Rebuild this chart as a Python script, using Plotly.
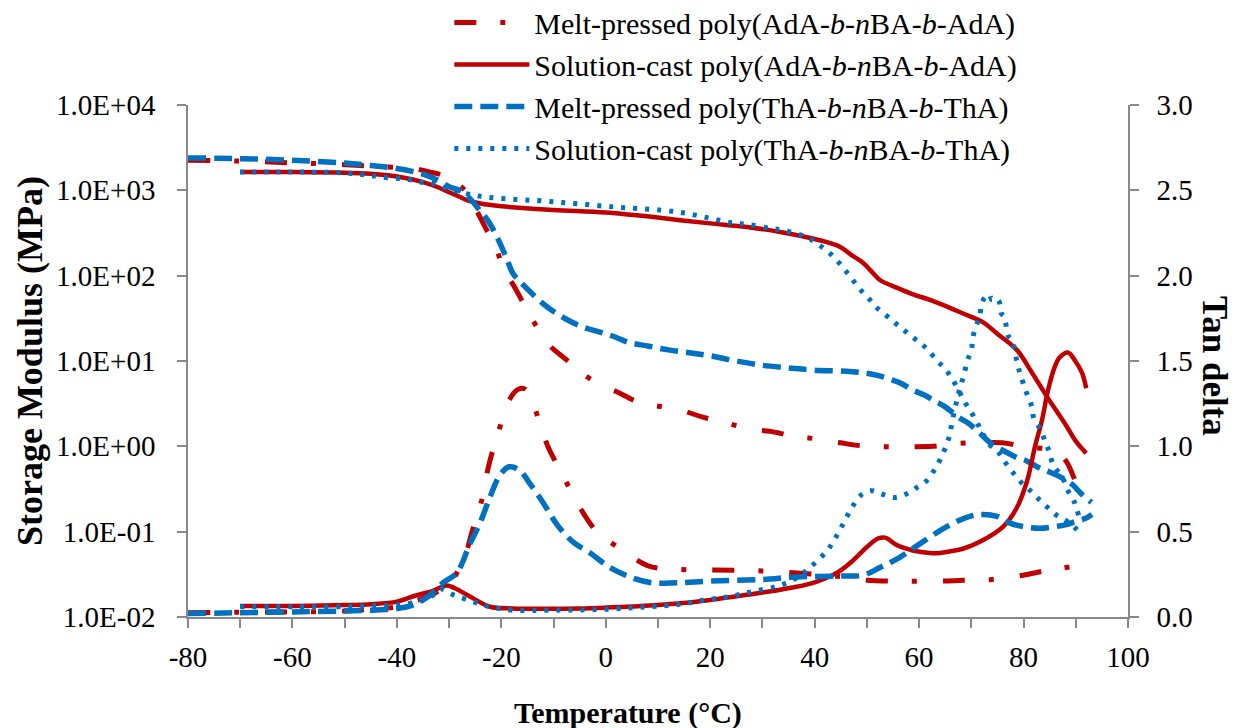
import plotly.graph_objects as go

# ---------------- data ----------------
# Storage modulus (MPa), left log axis
T_mp_ada_E = [-80,-70,-60,-50,-42,-37,-34,-31.2,-29,-27,-25,-23.1,-21,-19.7,-17.4,-15.1,-13.2,-10.9,-7.4,-4.9,
              -1.3,2.7,6.2,10.8,14.8,18.6,23.2,27.6,31.4,35.9,40.4,44.9,49.3,54,58,62.5,67.3,71.7,75.9,80.7,
              84.5,86.5,88.3,89.5,90.4,91]
E_mp_ada = [2250,2200,2100,2000,1880,1820,1650,1500,1250,1000,620,370,210,126,72,40,25,15.5,10.2,7.4,
            5.4,4.2,3.3,2.9,2.6,2.2,1.87,1.6,1.5,1.32,1.22,1.1,1.01,0.99,0.99,1.0,1.08,1.1,1.1,0.98,
            0.93,0.85,0.65,0.45,0.33,0.25]

T_sc_ada_E = [-70,-60,-50,-45,-40,-35,-32,-30,-28,-26.6,-24,-20,-10,0,10,14.2,20,27,33.4,38.5,
              42,44.9,47,49.3,51,52.5,55.8,59,62.1,65.9,68.4,72.2,74.9,78.7,81.5,84.5,86.5,88.3,90,92]
E_sc_ada = [1640,1640,1610,1560,1450,1250,1080,950,840,770,700,650,590,550,480,447,410,372,325,282,
            250,217,175,141,110,89,72,60,52,42,36,28.6,21,13.5,7.5,3.8,2.5,1.7,1.15,0.83]

T_mp_tha_E = [-80,-70,-60,-50,-45,-40,-35,-32,-30,-28,-26,-24.5,-22.6,-20.8,-19,-17.8,-15.8,-14.5,-12.2,-10,
              -7.2,-4.4,-1.3,1.4,4.3,8,12,16,20,25,30,35,40,46,50,52,54.5,56.5,59,61,
              63,65,67.5,69.5,71.5,74,76,78.7,80.7,83,85,87.6,89.5,91,93]
E_mp_tha = [2400,2350,2250,2090,1950,1800,1550,1300,1100,1000,800,620,445,282,160,107,78,65,48,38,
            30,25,22,19.5,16.6,15,13.5,12.5,11.5,10,8.9,8.3,7.8,7.6,7.2,6.8,6.1,5.5,4.5,4.0,
            3.4,2.9,2.2,1.85,1.45,1.05,0.9,0.74,0.67,0.56,0.5,0.42,0.35,0.28,0.22]

T_sc_tha_E = [-70,-60,-50,-45.7,-43,-38,-35.6,-33.3,-31.2,-29.3,-25.4,-22.7,-18.3,-12,1.4,13.6,20,24.4,27,31.4,
              34,38.5,40.6,42.6,44.3,45.8,47.3,49,50.6,52.1,54,56,57.9,59.8,61.5,63.2,64.8,66.1,67.5,68.6,
              70,71.1,72.2,73.6,74.9,76.1,78,79.7,81.6,83.2,84.7,86.4,88.5,90.8]
E_sc_tha = [1640,1640,1600,1510,1430,1350,1250,1220,1100,1000,880,830,790,750,640,560,470,413,400,360,
            340,282,235,190,150,117,89,66,52,41,33,26,21,17,13.9,10.5,8.3,6.5,4.6,3.4,
            2.5,1.9,1.4,1.03,0.9,0.7,0.49,0.37,0.29,0.23,0.19,0.155,0.13,0.098]

# Tan delta, right axis
T_mp_ada_td = [-80,-70,-60,-50,-45,-40,-37,-34,-31,-29.5,-28.5,-27,-25.7,-23.7,-22.4,-20.6,-18.5,-17,-15.8,-14.5,
               -13,-11.1,-8.2,-5.5,-1.7,3.3,8.1,13.6,20,30,40,45.4,50,57,64,68.4,74,79.9,84,87,90.2]
td_mp_ada = [0.025,0.028,0.03,0.035,0.045,0.06,0.09,0.12,0.17,0.2,0.26,0.35,0.49,0.69,0.89,1.08,1.27,1.33,1.34,1.3,
             1.17,1.0,0.83,0.67,0.5,0.39,0.3,0.28,0.275,0.27,0.25,0.235,0.215,0.21,0.21,0.215,0.22,0.245,0.27,0.285,0.3]

T_sc_ada_td = [-70,-60,-50,-45,-40,-37,-33,-30.5,-29,-26,-22.2,-17.8,-12,-5,0,5,10,14.2,20,27,
               33.4,39.7,44.3,47.3,50,52.1,53.5,55.8,58.8,62,64,66,68.4,72.2,76.1,78.7,80.7,82.2,83.5,84.7,
               85.9,86.9,88.5,89.9,91.2,92]
td_sc_ada = [0.065,0.065,0.07,0.075,0.09,0.12,0.155,0.185,0.17,0.12,0.06,0.05,0.048,0.05,0.055,0.062,0.07,0.08,0.1,0.13,
             0.16,0.2,0.26,0.33,0.41,0.46,0.465,0.42,0.39,0.375,0.375,0.385,0.4,0.45,0.53,0.64,0.8,1.0,1.15,1.33,
             1.46,1.52,1.55,1.5,1.43,1.34]

T_mp_tha_td = [-80,-70,-60,-50,-45,-40,-37,-34,-31.2,-28.5,-26,-24.1,-22.2,-20.3,-18.5,-16.5,-14.5,-12,-9.3,-6.3,
               -3,0.8,4.6,9,13.6,20,30,36.6,44.9,49.3,52.5,56.3,60.2,65.3,69.7,72,74.9,77.4,79.9,83,
               86,88,90,92,93.1]
td_mp_tha = [0.02,0.025,0.03,0.035,0.04,0.05,0.07,0.12,0.2,0.26,0.43,0.55,0.7,0.83,0.88,0.86,0.78,0.67,0.54,0.44,
             0.375,0.29,0.235,0.2,0.2,0.21,0.22,0.235,0.24,0.245,0.29,0.35,0.43,0.53,0.59,0.6,0.59,0.55,0.53,0.52,
             0.53,0.54,0.56,0.58,0.6]

T_sc_tha_td = [-70,-60,-50,-45,-40,-36,-33,-31.7,-29.2,-25.4,-22.2,-17.8,-10,0,8,14.2,19,23.8,28.2,32.8,
               36,39.1,42.4,43.9,45,46.2,47.3,48.7,50.8,52.9,55.2,57.5,59.6,61.5,62.9,64,65,65.8,66.3,67.3,
               67.9,68.6,69.2,70,70.3,71.1,71.6,72,72.8,73.4,73.9,74.5,75.3,75.7,76.3,76.6,77,77.8,78.7,79.3,
               80.5,81.6,82,83.2,84.1,84.9,85.7,87.4,88.5,89.5,90.2,91]
td_sc_tha = [0.06,0.06,0.06,0.065,0.07,0.09,0.13,0.165,0.13,0.09,0.06,0.04,0.04,0.045,0.06,0.075,0.1,0.12,0.15,0.18,
             0.22,0.29,0.39,0.46,0.52,0.59,0.65,0.71,0.74,0.72,0.7,0.72,0.76,0.8,0.86,0.92,0.99,1.06,1.14,1.28,
             1.35,1.42,1.5,1.56,1.64,1.72,1.76,1.84,1.88,1.89,1.86,1.87,1.85,1.78,1.76,1.72,1.65,1.62,1.5,1.43,
             1.32,1.23,1.16,1.1,1.03,0.97,0.89,0.82,0.74,0.69,0.63,0.55]

names = [
    "Melt-pressed poly(AdA-<i>b</i>-<i>n</i>BA-<i>b</i>-AdA)",
    "Solution-cast poly(AdA-<i>b</i>-<i>n</i>BA-<i>b</i>-AdA)",
    "Melt-pressed poly(ThA-<i>b</i>-<i>n</i>BA-<i>b</i>-ThA)",
    "Solution-cast poly(ThA-<i>b</i>-<i>n</i>BA-<i>b</i>-ThA)",
]
x_ticks = [-80, -60, -40, -20, 0, 20, 40, 60, 80, 100]
x_tick_text = ["-80", "-60", "-40", "-20", "0", "20", "40", "60", "80", "100"]
y_left_vals = [0.01, 0.1, 1, 10, 100, 1000, 10000]
y_left_text = ["1.0E-02", "1.0E-01", "1.0E+00", "1.0E+01", "1.0E+02", "1.0E+03", "1.0E+04"]

# ---------------- styles ----------------
RED = "#C00000"
BLUE = "#0070C0"
styles = [
    dict(color=RED, width=5, dash="22px,24px,5px,26px"),
    dict(color=RED, width=4.5, dash="solid"),
    dict(color=BLUE, width=5.5, dash="18px,8px"),
    dict(color=BLUE, width=5, dash="4px,8px"),
]
FONT = "Liberation Serif"

fig = go.Figure()
E_sets = [(T_mp_ada_E, E_mp_ada), (T_sc_ada_E, E_sc_ada), (T_mp_tha_E, E_mp_tha), (T_sc_tha_E, E_sc_tha)]
td_sets = [(T_mp_ada_td, td_mp_ada), (T_sc_ada_td, td_sc_ada), (T_mp_tha_td, td_mp_tha), (T_sc_tha_td, td_sc_tha)]

for i, (xs, ys) in enumerate(E_sets):
    fig.add_trace(go.Scatter(x=xs, y=ys, mode="lines", name=names[i], line=styles[i],
                             line_shape="spline", legendrank=i + 1, yaxis="y"))
for i, (xs, ys) in enumerate(td_sets):
    fig.add_trace(go.Scatter(x=xs, y=ys, mode="lines", name=names[i], line=styles[i],
                             line_shape="spline", showlegend=False, yaxis="y2"))

axis_color = "#898989"
fig.update_layout(
    width=1235, height=728,
    margin=dict(l=188, r=107, t=105, b=111, pad=0, autoexpand=False),
    paper_bgcolor="white", plot_bgcolor="white",
    font=dict(family=FONT, color="black", size=28),
    xaxis=dict(range=[-80, 100], tickvals=x_ticks, ticktext=x_tick_text, ticks="outside", ticklen=9,
               tickwidth=1.5, tickcolor=axis_color, showline=True, linecolor=axis_color, linewidth=1.5,
               showgrid=False, zeroline=False, tickfont=dict(size=29, family=FONT),
               ticklabelstandoff=4,
               minor=dict(dtick=10, ticks="outside", ticklen=9, tickwidth=1.5, tickcolor=axis_color,
                          showgrid=False)),
    yaxis=dict(type="log", range=[-2, 4], tickvals=y_left_vals, ticktext=y_left_text,
               ticks="outside", ticklen=9, tickwidth=1.5, tickcolor=axis_color,
               showline=True, linecolor=axis_color, linewidth=1.5, showgrid=False, zeroline=False,
               tickfont=dict(size=29, family=FONT), ticklabelstandoff=16),
    yaxis2=dict(overlaying="y", side="right", range=[0, 3], dtick=0.5, tickformat=".1f",
                ticks="outside", ticklen=9, tickwidth=1.5, tickcolor=axis_color,
                showline=True, linecolor=axis_color, linewidth=1.5, showgrid=False, zeroline=False,
                tickfont=dict(size=29, family=FONT), ticklabelstandoff=12),
    showlegend=True,
    legend=dict(x=0.278, y=1.212, xanchor="left", yanchor="top", bgcolor="rgba(0,0,0,0)",
                font=dict(size=30, family=FONT), itemwidth=75, tracegroupgap=0),
    annotations=[
        dict(text="<b>Temperature (°C)</b>", xref="paper", yref="paper", x=0.468, y=-0.1875,
             xanchor="center", yanchor="middle", showarrow=False, font=dict(size=30, family=FONT)),
        dict(text="<b>Storage Modulus (MPa)</b>", xref="paper", yref="paper", x=-0.168, y=0.5,
             xanchor="center", yanchor="middle", textangle=-90, showarrow=False,
             font=dict(size=36, family=FONT)),
        dict(text="<b>Tan delta</b>", xref="paper", yref="paper", x=1.0926, y=0.49,
             xanchor="center", yanchor="middle", textangle=90, showarrow=False,
             font=dict(size=35, family=FONT)),
    ],
)

fig.write_html("out.html", config={"displayModeBar": False},
               post_script="document.body.style.margin='0';")
